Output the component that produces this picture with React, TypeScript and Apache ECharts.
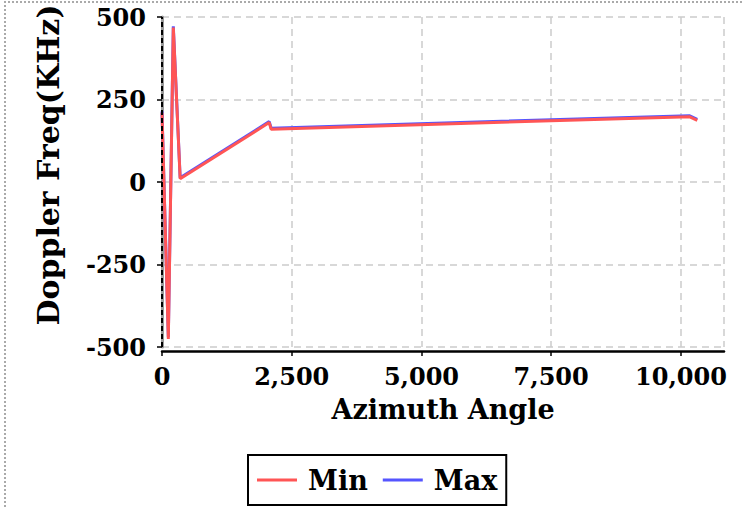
import React, { useEffect, useRef } from "react";
import * as echarts from "echarts";

const azimuth = [0, 122, 218, 350, 2066, 2104, 10160, 10315];
const minFreq = [210, -476, 468, 10, 180, 160, 198, 187];
const maxFreq = [214, -470, 472, 13, 183, 163, 201, 190];
const seriesNames = ["Min", "Max"];
const yMin = -500;
const yMax = 500;

const FONT = "DejaVu Serif";

export default function App() {
  const ref = useRef<HTMLDivElement>(null);
  useEffect(() => {
    if (!ref.current) return;
    const chart = echarts.init(ref.current, null, { renderer: "svg" });
    const minData = azimuth.map((x, i) => [x, minFreq[i]]);
    const maxData = azimuth.map((x, i) => [x, maxFreq[i]]);
    const labelStyle = {
      fontFamily: FONT,
      fontWeight: "bold" as const,
      fontSize: 24,
      color: "#000",
    };
    chart.setOption({
      animation: false,
      grid: { left: 162, right: 18, top: 17, bottom: 162, containLabel: false },
      xAxis: {
        type: "value",
        min: 0,
        max: 10830,
        interval: 2500,
        offset: 4,
        name: "Azimuth Angle",
        nameLocation: "middle",
        nameGap: 45,
        nameTextStyle: { fontFamily: FONT, fontWeight: "bold", fontSize: 27, color: "#000" },
        axisLine: { onZero: false, lineStyle: { color: "#000", width: 2.5 } },
        axisTick: { show: true, length: 5, lineStyle: { color: "#000", width: 1.5 } },
        axisLabel: {
          ...labelStyle,
          margin: 13,
          formatter: (v: number) => v.toLocaleString("en-US"),
        },
        splitLine: {
          show: true,
          lineStyle: { color: "#cccccc", type: [7, 5], width: 1.5 },
        },
      },
      yAxis: {
        type: "value",
        min: yMin,
        max: yMax,
        interval: 250,
        axisLine: { show: true, onZero: false, lineStyle: { color: "#999", width: 3 } },
        axisTick: { show: true, length: 5, lineStyle: { color: "#000", width: 1.5 } },
        axisLabel: { ...labelStyle, margin: 16 },
        splitLine: {
          show: true,
          lineStyle: { color: "#cccccc", type: [7, 5], width: 1.5 },
        },
      },
      legend: {
        data: seriesNames,
        left: 248,
        top: 455,
        borderColor: "#000",
        borderWidth: 2,
        borderRadius: 0,
        padding: [9, 9],
        itemGap: 15,
        itemWidth: 40,
        itemHeight: 3,
        icon: "rect",
        textStyle: {
          fontFamily: FONT,
          fontWeight: "bold",
          fontSize: 27,
          color: "#000",
          padding: [0, 0, 0, 6],
          lineHeight: 32,
        },
      },
      graphic: [
        {
          type: "text",
          x: 48,
          y: 165,
          rotation: Math.PI / 2,
          style: {
            text: "Doppler Freq(KHz)",
            fontFamily: FONT,
            fontWeight: "bold",
            fontSize: 30,
            fill: "#000",
            align: "center",
            verticalAlign: "middle",
          },
        },
      ],
      series: [
        {
          name: "Max",
          type: "line",
          data: maxData,
          symbol: "none",
          color: "#5555ff",
          lineStyle: { color: "#5555ff", width: 3 },
          markLine: {
            silent: true,
            symbol: "none",
            label: { show: false },
            lineStyle: { color: "#000", width: 2, type: [5, 3] },
            data: [[{ coord: [0, yMin] }, { coord: [0, yMax] }]],
          },
        },
        {
          name: "Min",
          type: "line",
          data: minData,
          symbol: "none",
          color: "#ff5555",
          lineStyle: { color: "#ff5555", width: 3 },
        },
      ],
    });
    return () => chart.dispose();
  }, []);

  return (
    <div style={{ position: "fixed", left: 0, top: 0, width: 742, height: 509, overflow: "hidden", background: "#fff" }}>
      <div
        style={{
          position: "absolute",
          left: 4,
          top: 1,
          width: 800,
          height: 600,
          borderLeft: "2px dotted #aaa",
          borderTop: "2px dotted #aaa",
        }}
      />
      <div ref={ref} style={{ position: "absolute", left: 0, top: 0, width: 742, height: 509 }} />
    </div>
  );
}
